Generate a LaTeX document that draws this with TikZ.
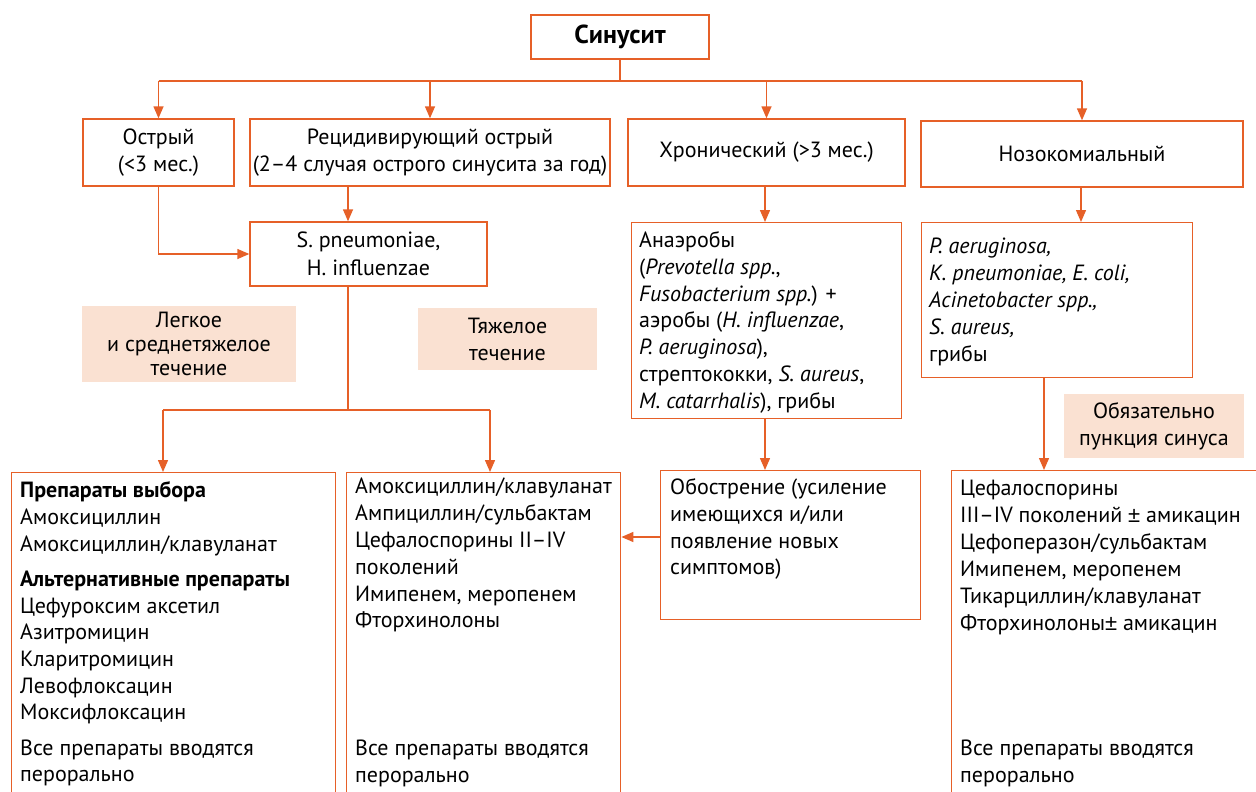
\documentclass[tikz,border=0pt]{standalone}
\usepackage{fontspec}
\setmainfont{PT Sans}
\newfontfamily\pmfont{Liberation Sans}
\newcommand{\pmsign}{{\pmfont ±}}
\usetikzlibrary{arrows.meta}
\definecolor{org}{RGB}{230,96,40}
\definecolor{peach}{RGB}{250,225,210}
\begin{document}
\begin{tikzpicture}[x=1pt,y=-1pt,
  box/.style={draw=org, line width=1.4pt, inner sep=0pt, fill=white},
  ctext/.style={align=center, font=\fontsize{22}{27.5}\selectfont},
  ltext/.style={align=left, anchor=north west, inner sep=0pt, font=\fontsize{22}{26.7}\selectfont},
  lbl/.style={fill=peach, inner sep=0pt, align=center, font=\fontsize{22}{24}\selectfont},
  line/.style={draw=org, line width=1.4pt},
  arr/.style={line, -{Triangle[length=12pt,width=10pt]}},
]
\useasboundingbox (0,0) rectangle (1256,792);
\fill[white] (0,0) rectangle (1256,792);

% top level
\node[box, ctext, minimum width=178, minimum height=44, font=\bfseries\fontsize{26}{30}\selectfont] (sin) at (620,37) {Синусит};
\node[box, ctext, minimum width=151, minimum height=67] (ostr) at (158.5,152.5) {Острый\\(<3 мес.)};
\node[box, ctext, minimum width=360, minimum height=67] (recid) at (430,152.5) {Рецидивирующий острый\\(2–4 случая острого синусита за год)};
\node[box, ctext, minimum width=277, minimum height=67] (chron) at (766.5,152.5) {Хронический (>3 мес.)};
\node[box, ctext, minimum width=322, minimum height=66] (nozo) at (1082,154) {Нозокомиальный};
\node[box, ctext, minimum width=237, minimum height=64] (spn) at (368.5,254) {S. pneumoniae,\\H. influenzae};

% labels
\node[lbl, minimum width=214, minimum height=76] (lab1) at (189,344) {Легкое\\и среднетяжелое\\течение};
\node[lbl, minimum width=179, minimum height=62, font=\fontsize{22}{27}\selectfont] (lab2) at (507.5,339) {Тяжелое\\течение};
\node[lbl, minimum width=180, minimum height=64, font=\fontsize{22}{27}\selectfont] (lab3) at (1154,426) {Обязательно\\пункция синуса};

% pathogen boxes
\node[box, minimum width=270, minimum height=196, anchor=north west] (anaer) at (631,222) {};
\node[ltext] (anaerT) at (639,229) {\strut Анаэробы\\(\textit{Prevotella spp.},\\\textit{Fusobacterium spp.}) +\\аэробы (\textit{H. influenzae},\\\textit{P. aeruginosa}),\\стрептококки, \textit{S. aureus},\\\textit{M. catarrhalis}), грибы};

\node[box, minimum width=271, minimum height=155, anchor=north west] (paer) at (921,222) {};
\node[ltext, font=\fontsize{22}{27}\selectfont] (paerT) at (929,234) {\strut\textit{P. aeruginosa,}\\\textit{K. pneumoniae, E. coli,}\\\textit{Acinetobacter spp.,}\\\textit{S. aureus,}\\грибы};

\node[box, minimum width=260, minimum height=149, anchor=north west] (obo) at (660,470) {};
\node[ltext] (oboT) at (670,476) {\strut Обострение (усиление\\имеющихся и/или\\появление новых\\симптомов)};

% treatment boxes
\node[box, minimum width=324, minimum height=340, anchor=north west] (box1) at (11,472) {};
\node[ltext, font=\fontsize{22}{26.6}\selectfont] (box1T) at (20,479) {\strut\textbf{Препараты выбора}\\Амоксициллин\\Амоксициллин/клавуланат\\[9pt]\textbf{Альтернативные препараты}\\Цефуроксим аксетил\\Азитромицин\\Кларитромицин\\Левофлоксацин\\Моксифлоксацин\\[9pt]Все препараты вводятся\\перорально};

\node[box, minimum width=274, minimum height=340, anchor=north west] (box2) at (346,472) {};
\node[ltext, font=\fontsize{22}{26.8}\selectfont] (box2T) at (355,475) {\strut Амоксициллин/клавуланат\\Ампициллин/сульбактам\\Цефалоспорины II–IV\\поколений\\Имипенем, меропенем\\Фторхинолоны};
\node[ltext, font=\fontsize{22}{26.8}\selectfont] (box2B) at (355,737) {\strut Все препараты вводятся\\перорально};

\node[box, minimum width=330, minimum height=340, anchor=north west] (box4) at (951,470) {};
\node[ltext, font=\fontsize{22}{27}\selectfont] (box4T) at (960,476) {\strut Цефалоспорины\\III–IV поколений \pmsign{} амикацин\\Цефоперазон/сульбактам\\Имипенем, меропенем\\Тикарциллин/клавуланат\\Фторхинолоны\pmsign{} амикацин};
\node[ltext, font=\fontsize{22}{27}\selectfont] (box4B) at (960,736) {\strut Все препараты вводятся\\перорально};

% connectors
\coordinate (bus) at (621,81);
\draw[line] (sin.south) -- (sin.south |- bus);
\draw[line] (ostr.north |- bus) -- (nozo.north |- bus);
\draw[arr] (ostr.north |- bus) -- (ostr.north);
\draw[arr] (recid.north |- bus) -- (recid.north);
\draw[arr] (chron.north |- bus) -- (chron.north);
\draw[arr] (nozo.north |- bus) -- (nozo.north);

\coordinate (spnx) at (348,0);
\draw[arr] (recid.south -| spnx) -- (spn.north -| spnx);
\draw[arr] (ostr.south) |- (spn.west);

\coordinate (bus2) at (348,410);
\coordinate (b1L) at (163,410);
\coordinate (b1R) at (490,410);
\draw[line] (spn.south -| bus2) -- (bus2);
\draw[line] (b1L) -- (b1R);
\draw[arr] (b1L) -- (b1L |- box1.north);
\draw[arr] (b1R) -- (b1R |- box2.north);

\coordinate (anx) at (765,0);
\draw[arr] (chron.south -| anx) -- (anaer.north -| anx);
\draw[arr] (anaer.south -| anx) -- (obo.north -| anx);
\coordinate (oy) at (0,537);
\draw[arr] (obo.west |- oy) -- (box2.east |- oy);

\coordinate (nx) at (1081,0);
\draw[arr] (nozo.south -| nx) -- (paer.north -| nx);
\coordinate (px) at (1044,0);
\draw[arr] (paer.south -| px) -- (box4.north -| px);
\end{tikzpicture}
\end{document}
